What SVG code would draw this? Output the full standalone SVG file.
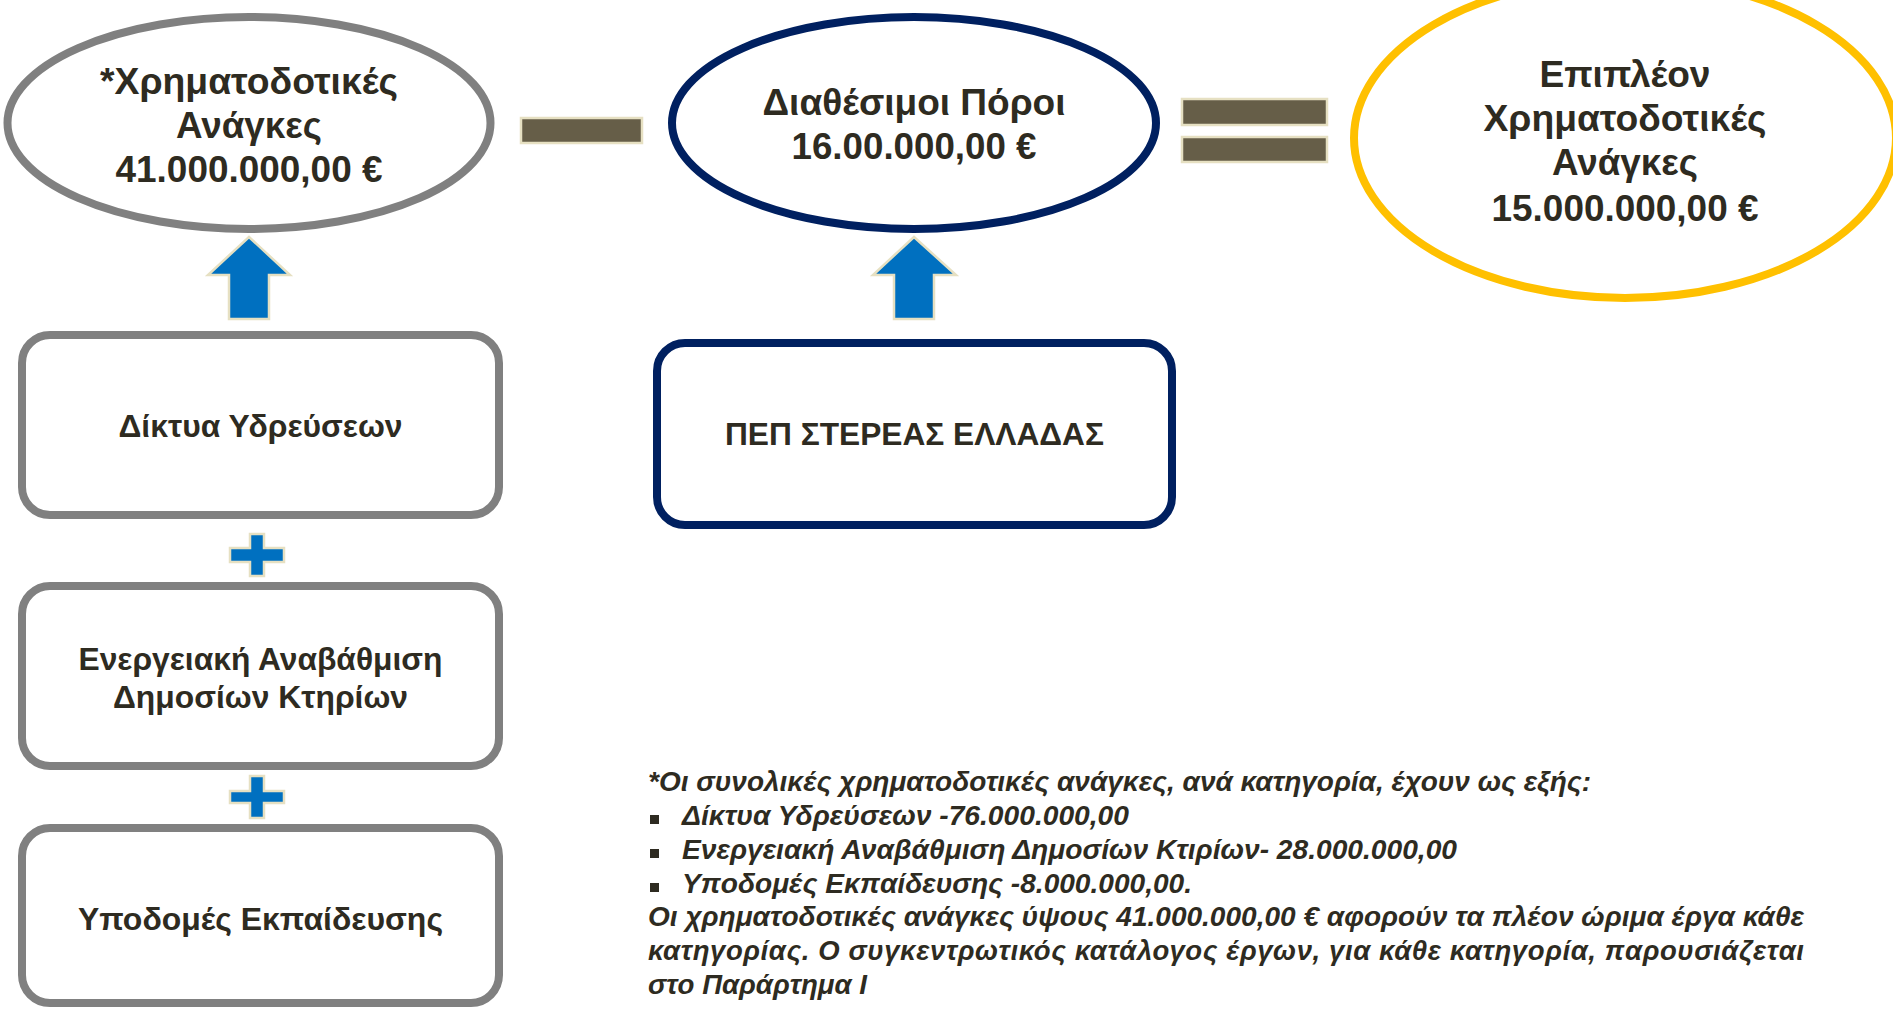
<svg xmlns="http://www.w3.org/2000/svg" width="1893" height="1009" viewBox="0 0 1893 1009">
<style>
  text { font-family: "Liberation Sans", Arial, sans-serif; font-weight: bold; fill: #2E2B21; }
  .big { font-size: 37px; text-anchor: middle; }
  .box { font-size: 31px; text-anchor: middle; }
  .note { font-size: 27.5px; font-style: italic; }
  .grayEll { fill: #FFFFFF; stroke: #808080; stroke-width: 8; }
  .navyEll { fill: #FFFFFF; stroke: #002060; stroke-width: 8; }
  .goldEll { fill: #FFFFFF; stroke: #FFC000; stroke-width: 8; }
  .grayBox { fill: #FFFFFF; stroke: #808080; stroke-width: 8; }
  .navyBox { fill: #FFFFFF; stroke: #002060; stroke-width: 8; }
  .op { fill: #665E48; stroke: #E6E0C2; stroke-width: 2.5; }
  .blue { fill: #0070C0; stroke: #E6E0C2; stroke-width: 2.5; stroke-linejoin: miter; }
  .bullet { fill: #2E2B21; }
</style>

<g id="node-needs">
  <ellipse class="grayEll" cx="249" cy="123" rx="241.5" ry="106"/>
  <text class="big" x="249" y="94" textLength="298" lengthAdjust="spacingAndGlyphs">*Χρηματοδοτικές</text>
  <text class="big" x="249" y="138" textLength="146" lengthAdjust="spacingAndGlyphs">Ανάγκες</text>
  <text class="big" x="249" y="182" textLength="267" lengthAdjust="spacingAndGlyphs">41.000.000,00 €</text>
</g>

<g id="node-resources">
  <ellipse class="navyEll" cx="914" cy="123" rx="242" ry="106"/>
  <text class="big" x="914" y="115" textLength="303" lengthAdjust="spacingAndGlyphs">Διαθέσιμοι Πόροι</text>
  <text class="big" x="914" y="159" textLength="245" lengthAdjust="spacingAndGlyphs">16.00.000,00 €</text>
</g>

<g id="node-extra">
  <ellipse class="goldEll" cx="1625" cy="138" rx="271" ry="160"/>
  <text class="big" x="1625" y="87" textLength="171" lengthAdjust="spacingAndGlyphs">Επιπλέον</text>
  <text class="big" x="1625" y="131" textLength="283" lengthAdjust="spacingAndGlyphs">Χρηματοδοτικές</text>
  <text class="big" x="1625" y="175" textLength="146" lengthAdjust="spacingAndGlyphs">Ανάγκες</text>
  <text class="big" x="1625" y="221" textLength="267" lengthAdjust="spacingAndGlyphs">15.000.000,00 €</text>
</g>

<g id="node-water">
  <rect class="grayBox" x="22" y="335" width="477" height="180" rx="28"/>
  <text class="box" x="260.5" y="437" textLength="284" lengthAdjust="spacingAndGlyphs">Δίκτυα Υδρεύσεων</text>
</g>

<g id="node-energy">
  <rect class="grayBox" x="22" y="586" width="477" height="180" rx="28"/>
  <text class="box" x="260.5" y="670" textLength="364" lengthAdjust="spacingAndGlyphs">Ενεργειακή Αναβάθμιση</text>
  <text class="box" x="260.5" y="708" textLength="295" lengthAdjust="spacingAndGlyphs">Δημοσίων Κτηρίων</text>
</g>

<g id="node-education">
  <rect class="grayBox" x="22" y="828" width="477" height="175" rx="28"/>
  <text class="box" x="260.5" y="930" textLength="365" lengthAdjust="spacingAndGlyphs">Υποδομές Εκπαίδευσης</text>
</g>

<g id="node-pep">
  <rect class="navyBox" x="657" y="343" width="515" height="182" rx="28"/>
  <text class="box" x="914.5" y="445" textLength="379" lengthAdjust="spacingAndGlyphs">ΠΕΠ ΣΤΕΡΕΑΣ ΕΛΛΑΔΑΣ</text>
</g>

<g id="connectors">
  <rect class="op" x="521" y="118" width="121" height="25"/>
  <rect class="op" x="1182" y="99" width="145" height="26"/>
  <rect class="op" x="1182" y="137" width="145" height="25"/>
  <path class="blue" d="M249,237 L290,275 L269,275 L269,319 L229,319 L229,275 L208,275 Z"/>
  <path class="blue" d="M914,237 L956,275 L934,275 L934,319 L894,319 L894,275 L873,275 Z"/>
  <path class="blue" d="M250,534 L264,534 L264,548 L284,548 L284,562 L264,562 L264,576 L250,576 L250,562 L230,562 L230,548 L250,548 Z"/>
  <path class="blue" d="M250,776 L264,776 L264,791 L284,791 L284,803 L264,803 L264,818 L250,818 L250,803 L230,803 L230,791 L250,791 Z"/>
</g>

<g id="footnote">
  <text class="note" x="648" y="791" textLength="943" lengthAdjust="spacingAndGlyphs">*Οι συνολικές χρηματοδοτικές ανάγκες, ανά κατηγορία, έχουν ως εξής:</text>
  <rect class="bullet" x="650" y="815" width="9" height="9"/>
  <text class="note" x="682" y="825" textLength="447" lengthAdjust="spacingAndGlyphs">Δίκτυα Υδρεύσεων -76.000.000,00</text>
  <rect class="bullet" x="650" y="849" width="9" height="9"/>
  <text class="note" x="682" y="859" textLength="775" lengthAdjust="spacingAndGlyphs">Ενεργειακή Αναβάθμιση Δημοσίων Κτιρίων- 28.000.000,00</text>
  <rect class="bullet" x="650" y="883" width="9" height="9"/>
  <text class="note" x="682" y="893" textLength="510" lengthAdjust="spacingAndGlyphs">Υποδομές Εκπαίδευσης -8.000.000,00.</text>
  <text class="note" x="648" y="926" textLength="1156" lengthAdjust="spacingAndGlyphs">Οι χρηματοδοτικές ανάγκες ύψους 41.000.000,00 € αφορούν τα πλέον ώριμα έργα κάθε</text>
  <text class="note" x="648" y="960" textLength="1156" lengthAdjust="spacing">κατηγορίας. Ο συγκεντρωτικός κατάλογος έργων, για κάθε κατηγορία, παρουσιάζεται</text>
  <text class="note" x="648" y="994" textLength="219" lengthAdjust="spacingAndGlyphs">στο Παράρτημα Ι</text>
</g>
</svg>
